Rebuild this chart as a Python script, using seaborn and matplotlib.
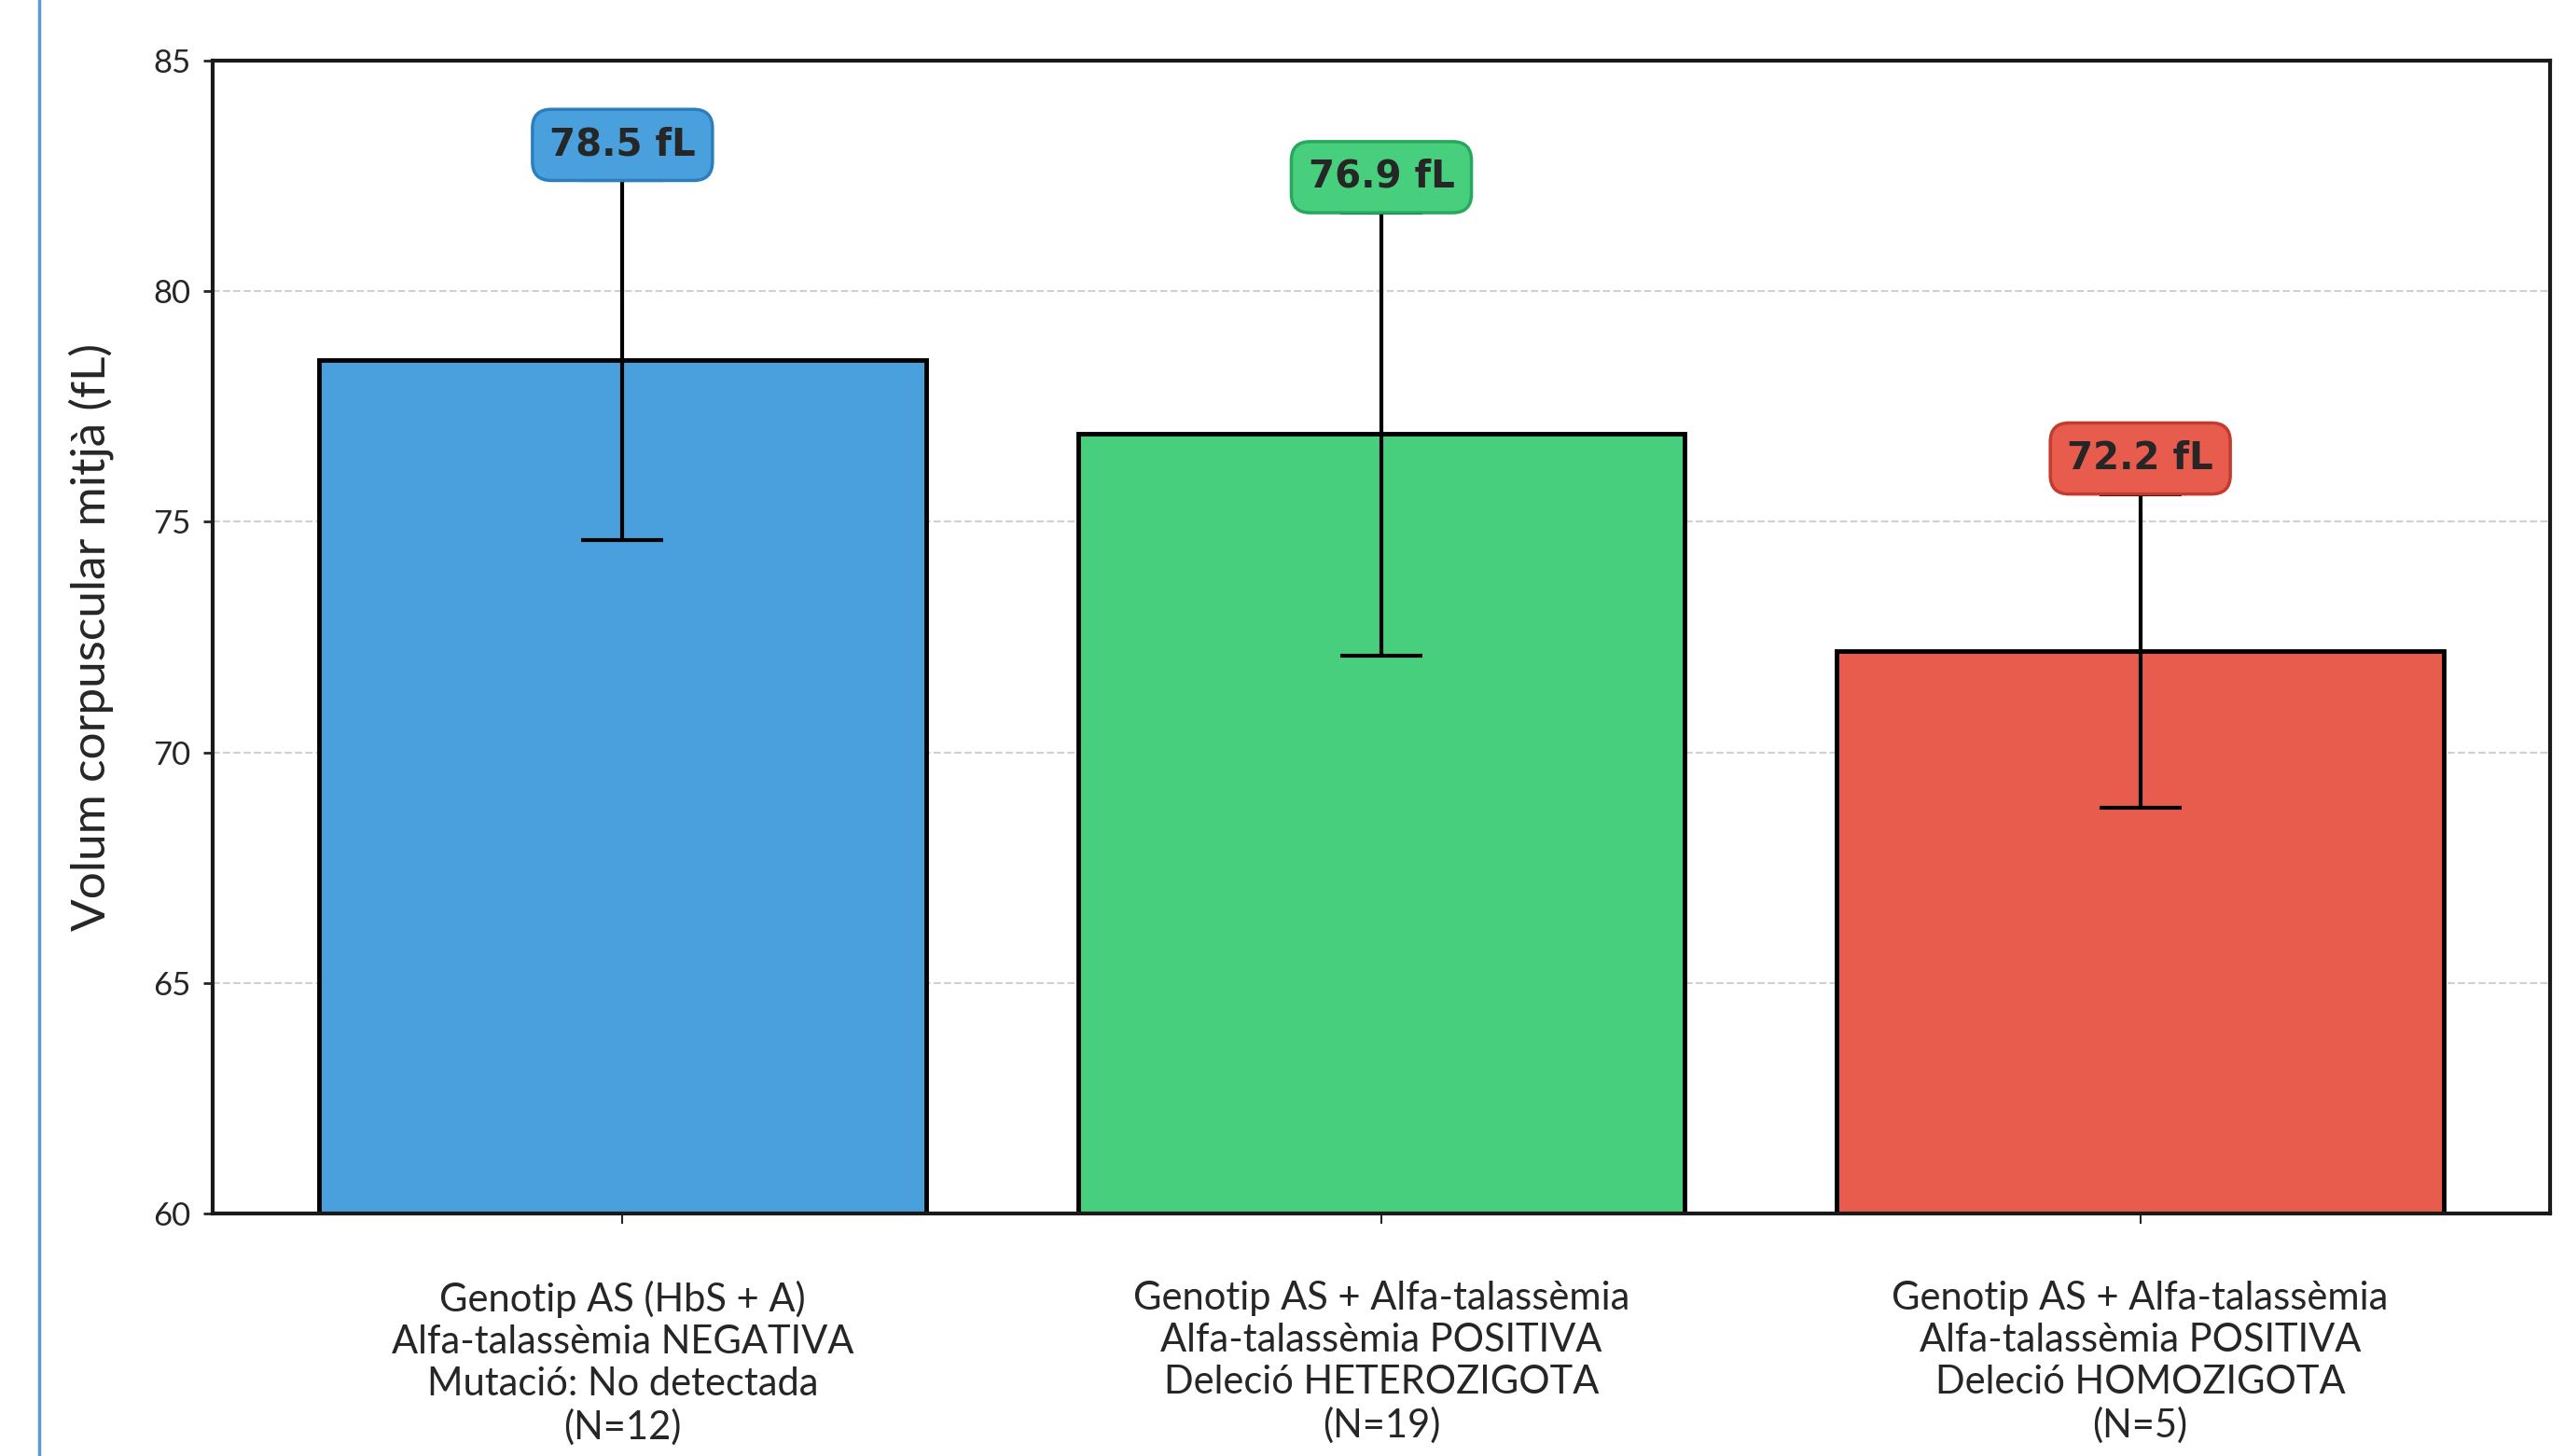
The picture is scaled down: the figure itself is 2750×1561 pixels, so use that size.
import matplotlib.pyplot as plt
from matplotlib.lines import Line2D
import pandas as pd
import seaborn as sns

# values
groups = [
    "Genotip AS (HbS + A)\nAlfa-talassèmia NEGATIVA\nMutació: No detectada\n(N=12)",
    "Genotip AS + Alfa-talassèmia\nAlfa-talassèmia POSITIVA\nDeleció HETEROZIGOTA\n(N=19)",
    "Genotip AS + Alfa-talassèmia\nAlfa-talassèmia POSITIVA\nDeleció HOMOZIGOTA\n(N=5)",
]
mcv_mean = [78.5, 76.9, 72.2]
mcv_sd = [3.9, 4.8, 3.4]
bar_colors = ["#4aa0dc", "#47cf7d", "#e85c4d"]
box_edges = ["#2b7fbf", "#27a85c", "#c23b2e"]
y_ticks = [60, 65, 70, 75, 80, 85]

sns.set_style("white")
plt.rcParams["font.family"] = ["Lato", "DejaVu Sans"]

df = pd.DataFrame({"grup": groups, "vcm": mcv_mean})

fig = plt.figure(figsize=(27.5, 15.61), dpi=100)
ax = fig.add_axes([0.0829, 0.1666, 0.9113, 0.7918])

sns.barplot(
    data=df, x="grup", y="vcm", hue="grup", palette=bar_colors,
    saturation=1, legend=False, errorbar=None, width=0.8,
    edgecolor="black", linewidth=3.5, ax=ax,
)
ax.errorbar(
    range(len(groups)), mcv_mean, yerr=mcv_sd, fmt="none",
    ecolor="black", elinewidth=3, capsize=32, capthick=3, zorder=3,
)

# value labels sitting on top of the upper error bar
pad = 0.45
fs = 29
for i, (m, s) in enumerate(zip(mcv_mean, mcv_sd)):
    ax.annotate(
        f"{m:.1f} fL", xy=(i, m + s), xytext=(0, pad * fs),
        textcoords="offset points", ha="center", va="bottom",
        fontsize=fs, fontweight="bold", family="DejaVu Sans", zorder=5,
        bbox=dict(boxstyle=f"round,pad={pad},rounding_size=0.5",
                  fc=bar_colors[i], ec=box_edges[i], lw=2.5),
    )

ax.set_ylim(60, 85)
ax.set_xlim(-0.54, 2.54)
ax.set_yticks(y_ticks)
ax.set_xticks(range(len(groups)))
ax.set_xticklabels(groups, fontsize=30, linespacing=1.22)
ax.set_xlabel("")
ax.set_ylabel("Volum corpuscular mitjà (fL)", fontsize=37, labelpad=30)
ax.yaxis.grid(True, linestyle="--", color="#d0d0d0", linewidth=1.5)
ax.set_axisbelow(True)
ax.tick_params(axis="y", labelsize=25, length=7, width=2, pad=10, left=True)
ax.tick_params(axis="x", length=8, width=1.5, pad=44, bottom=True)
for sp in ax.spines.values():
    sp.set_visible(True)
    sp.set_color("#1a1a1a")
    sp.set_linewidth(3)

# slide frame line on the left
fig.add_artist(Line2D([0.0153, 0.0153], [0, 1], transform=fig.transFigure,
                      color="#5b9bd5", linewidth=2.5))

fig.savefig("out.png", dpi=100)
